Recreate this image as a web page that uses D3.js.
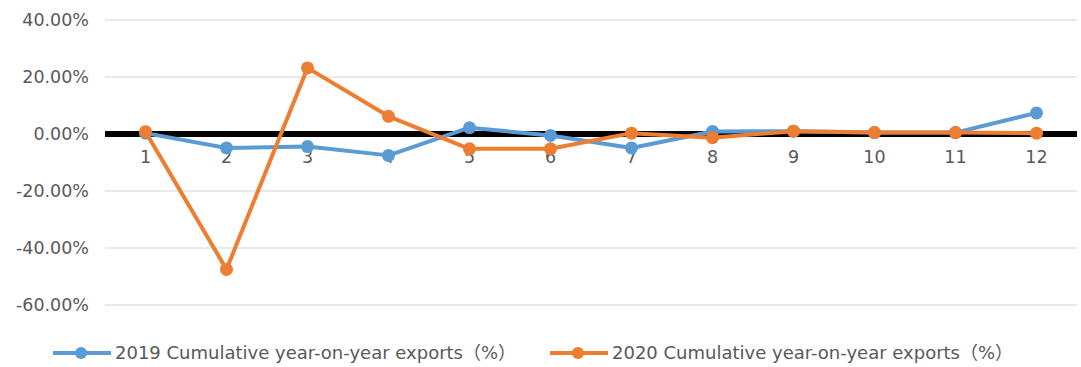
<!DOCTYPE html>
<html><head><meta charset="utf-8">
<script src="https://cdn.jsdelivr.net/npm/d3@7"></script>
<style>
html,body{margin:0;padding:0;background:#fff;}
text{font-family:"DejaVu Sans","Noto Sans CJK SC",sans-serif;fill:#595959;}
</style></head>
<body><svg id="c" width="1081" height="367"></svg>
<script>
const months = ["1","2","3","4","5","6","7","8","9","10","11","12"];
const series2019 = [0.3,-4.9,-4.4,-7.5,2.2,-0.5,-4.9,0.9,1.0,0.5,0.5,7.4];
const series2020 = [0.8,-47.5,23.2,6.2,-5.2,-5.2,0.3,-1.3,1.0,0.5,0.5,0.3];
const yTicks = [40,20,0,-20,-40,-60];
const seriesNames = ["2019 Cumulative year-on-year exports（%）","2020 Cumulative year-on-year exports（%）"];
const colors = ["#5B9BD5","#ED7D31"];

(function(){
const svg = d3.select("#c");
const L=105,R=1077,T=20,B=305;
const x = d3.scaleBand().domain(months).range([L,R]);
const y = d3.scaleLinear().domain([-60,40]).range([B,T]);

svg.append("g").selectAll("line").data(yTicks.filter(d=>d!==0)).join("line")
  .attr("x1",L).attr("x2",R).attr("y1",d=>y(d)).attr("y2",d=>y(d))
  .attr("stroke","#e3e3e3").attr("stroke-width",1.5);

const fmt = d=>d3.format(".2f")(d).replace("\u2212","-")+"%";
const yAxis = d3.axisLeft(y).tickValues(yTicks).tickFormat(fmt).tickSize(0).tickPadding(16);
const ya = svg.append("g").attr("transform",`translate(${L},0)`).call(yAxis);
ya.select(".domain").remove();
ya.selectAll("text").style("font-size","17.5px").style("font-family",'"DejaVu Sans",sans-serif').attr("fill","#595959");

svg.append("line").attr("x1",L).attr("x2",R).attr("y1",y(0)).attr("y2",y(0))
  .attr("stroke","#000").attr("stroke-width",6);

const xAxis = d3.axisBottom(x).tickSize(0).tickPadding(17);
const xa = svg.append("g").attr("transform",`translate(0,${y(0)})`).call(xAxis);
xa.select(".domain").remove();
xa.selectAll("text").style("font-size","17.5px").style("font-family",'"DejaVu Sans",sans-serif').attr("fill","#595959");

const cx = d=>x(d)+x.bandwidth()/2;
const line = d3.line().x((d,i)=>cx(months[i])).y(d=>y(d));
[series2019,series2020].forEach((s,k)=>{
  const g = svg.append("g");
  g.append("path").datum(s).attr("d",line).attr("fill","none")
    .attr("stroke",colors[k]).attr("stroke-width",4).attr("stroke-linejoin","round");
  g.selectAll("circle").data(s).join("circle")
    .attr("cx",(d,i)=>cx(months[i])).attr("cy",d=>y(d)).attr("r",6.5).attr("fill",colors[k]);
});

const legX = [53,550];
seriesNames.forEach((n,k)=>{
  const g = svg.append("g").attr("transform",`translate(${legX[k]},353)`);
  g.append("line").attr("x1",0).attr("x2",58).attr("stroke",colors[k]).attr("stroke-width",4);
  g.append("circle").attr("cx",28).attr("r",6).attr("fill",colors[k]);
  g.append("text").attr("x",62).attr("y",0).attr("dy","0.35em").style("font-size","18px").text(n);
});
})();
</script></body></html>
